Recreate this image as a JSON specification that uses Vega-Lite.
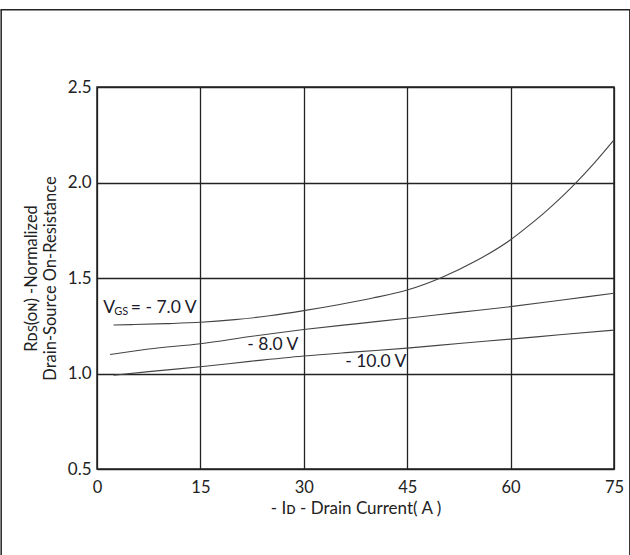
{
  "$schema": "https://vega.github.io/schema/vega-lite/v6.json",
  "width": 517,
  "height": 382,
  "autosize": "none",
  "padding": {"left": 97, "top": 87, "right": 16, "bottom": 86},
  "background": "white",
  "config": {
    "font": "Lato",
    "view": {"stroke": "#222", "strokeWidth": 1.5}
  },
  "datasets": {
    "curves": [
      {"vgs": "-7.0 V", "id": 2.4, "r": 1.254},
      {"vgs": "-7.0 V", "id": 5, "r": 1.256},
      {"vgs": "-7.0 V", "id": 10, "r": 1.261},
      {"vgs": "-7.0 V", "id": 15, "r": 1.268},
      {"vgs": "-7.0 V", "id": 20, "r": 1.282},
      {"vgs": "-7.0 V", "id": 25, "r": 1.302},
      {"vgs": "-7.0 V", "id": 30, "r": 1.329},
      {"vgs": "-7.0 V", "id": 35, "r": 1.36},
      {"vgs": "-7.0 V", "id": 40, "r": 1.395},
      {"vgs": "-7.0 V", "id": 45, "r": 1.437},
      {"vgs": "-7.0 V", "id": 50, "r": 1.503},
      {"vgs": "-7.0 V", "id": 55, "r": 1.59},
      {"vgs": "-7.0 V", "id": 60, "r": 1.70},
      {"vgs": "-7.0 V", "id": 62.5, "r": 1.77},
      {"vgs": "-7.0 V", "id": 65, "r": 1.845},
      {"vgs": "-7.0 V", "id": 67.5, "r": 1.927},
      {"vgs": "-7.0 V", "id": 69.4, "r": 1.995},
      {"vgs": "-7.0 V", "id": 72, "r": 2.096},
      {"vgs": "-7.0 V", "id": 75, "r": 2.223},
      {"vgs": "-8.0 V", "id": 1.9, "r": 1.099},
      {"vgs": "-8.0 V", "id": 7.5, "r": 1.128},
      {"vgs": "-8.0 V", "id": 15, "r": 1.156},
      {"vgs": "-8.0 V", "id": 22.5, "r": 1.195},
      {"vgs": "-8.0 V", "id": 30, "r": 1.23},
      {"vgs": "-8.0 V", "id": 37.5, "r": 1.26},
      {"vgs": "-8.0 V", "id": 45, "r": 1.289},
      {"vgs": "-8.0 V", "id": 52.5, "r": 1.32},
      {"vgs": "-8.0 V", "id": 60, "r": 1.35},
      {"vgs": "-8.0 V", "id": 67.5, "r": 1.385},
      {"vgs": "-8.0 V", "id": 75, "r": 1.42},
      {"vgs": "-10.0 V", "id": 2.4, "r": 0.991},
      {"vgs": "-10.0 V", "id": 7.5, "r": 1.01},
      {"vgs": "-10.0 V", "id": 15, "r": 1.035},
      {"vgs": "-10.0 V", "id": 22.5, "r": 1.065},
      {"vgs": "-10.0 V", "id": 30, "r": 1.092},
      {"vgs": "-10.0 V", "id": 37.5, "r": 1.113},
      {"vgs": "-10.0 V", "id": 45, "r": 1.133},
      {"vgs": "-10.0 V", "id": 52.5, "r": 1.157},
      {"vgs": "-10.0 V", "id": 60, "r": 1.18},
      {"vgs": "-10.0 V", "id": 67.5, "r": 1.204},
      {"vgs": "-10.0 V", "id": 75, "r": 1.227}
    ],
    "labels": [
      {"text": "V", "id": 0.9, "r": 1.345, "size": 17.5},
      {"text": "GS", "id": 2.5, "r": 1.322, "size": 11},
      {"text": "= - 7.0 V", "id": 4.9, "r": 1.345, "size": 17.5},
      {"text": "- 8.0 V", "id": 21.8, "r": 1.148, "size": 17.5},
      {"text": "- 10.0 V", "id": 36.0, "r": 1.062, "size": 17.5}
    ],
    "frame": [{"x": -14.0, "x2": 77.4, "yt": 2.905, "yb": -0.2, "xl": -13.9, "xr": 77.3}]
  },
  "layer": [
    {
      "data": {"name": "curves"},
      "mark": {"type": "line", "interpolate": "monotone", "color": "#444", "strokeWidth": 1.1},
      "encoding": {
        "x": {
          "field": "id", "type": "quantitative",
          "scale": {"domain": [0, 75], "nice": false},
          "axis": {
            "values": [0, 15, 30, 45, 60, 75],
            "grid": true, "gridColor": "#222", "gridWidth": 1.3, "gridOpacity": 1,
            "domain": false, "ticks": false,
            "labelFontSize": 16.5, "labelColor": "#222", "labelPadding": 10,
            "labelFlush": false,
            "title": "- Iᴅ - Drain Current( A )",
            "titleFontSize": 17, "titleFontWeight": "normal", "titleColor": "#222",
            "titlePadding": 5
          }
        },
        "y": {
          "field": "r", "type": "quantitative",
          "scale": {"domain": [0.5, 2.5], "nice": false},
          "axis": {
            "values": [0.5, 1.0, 1.5, 2.0, 2.5],
            "format": ".1f",
            "grid": true, "gridColor": "#222", "gridWidth": 1.3, "gridOpacity": 1,
            "domain": false, "ticks": false,
            "labelFontSize": 17, "labelColor": "#222", "labelPadding": 6,
            "labelFlush": false,
            "title": ["Rᴅꜱ(ᴏɴ) -Normalized", "Drain-Source On-Resistance"],
            "titleFontSize": 16.5, "titleFontWeight": "normal", "titleColor": "#222",
            "titlePadding": 9, "titleLineHeight": 19
          }
        },
        "detail": {"field": "vgs"}
      }
    },
    {
      "data": {"name": "labels"},
      "mark": {"type": "text", "align": "left", "baseline": "middle", "color": "#1a1a2a"},
      "encoding": {
        "x": {"field": "id", "type": "quantitative"},
        "y": {"field": "r", "type": "quantitative"},
        "text": {"field": "text"},
        "size": {"field": "size", "type": "quantitative", "scale": null}
      }
    },
    {
      "data": {"name": "frame"},
      "mark": {"type": "rule", "color": "#222", "strokeWidth": 1.5},
      "encoding": {
        "x": {"field": "x", "type": "quantitative"},
        "x2": {"field": "x2"},
        "y": {"field": "yt", "type": "quantitative"}
      }
    },
    {
      "data": {"name": "frame"},
      "mark": {"type": "rule", "color": "#222", "strokeWidth": 1.5},
      "encoding": {
        "x": {"field": "xl", "type": "quantitative"},
        "y": {"field": "yt", "type": "quantitative"},
        "y2": {"field": "yb"}
      }
    },
    {
      "data": {"name": "frame"},
      "mark": {"type": "rule", "color": "#222", "strokeWidth": 1.5},
      "encoding": {
        "x": {"field": "xr", "type": "quantitative"},
        "y": {"field": "yt", "type": "quantitative"},
        "y2": {"field": "yb"}
      }
    }
  ]
}
